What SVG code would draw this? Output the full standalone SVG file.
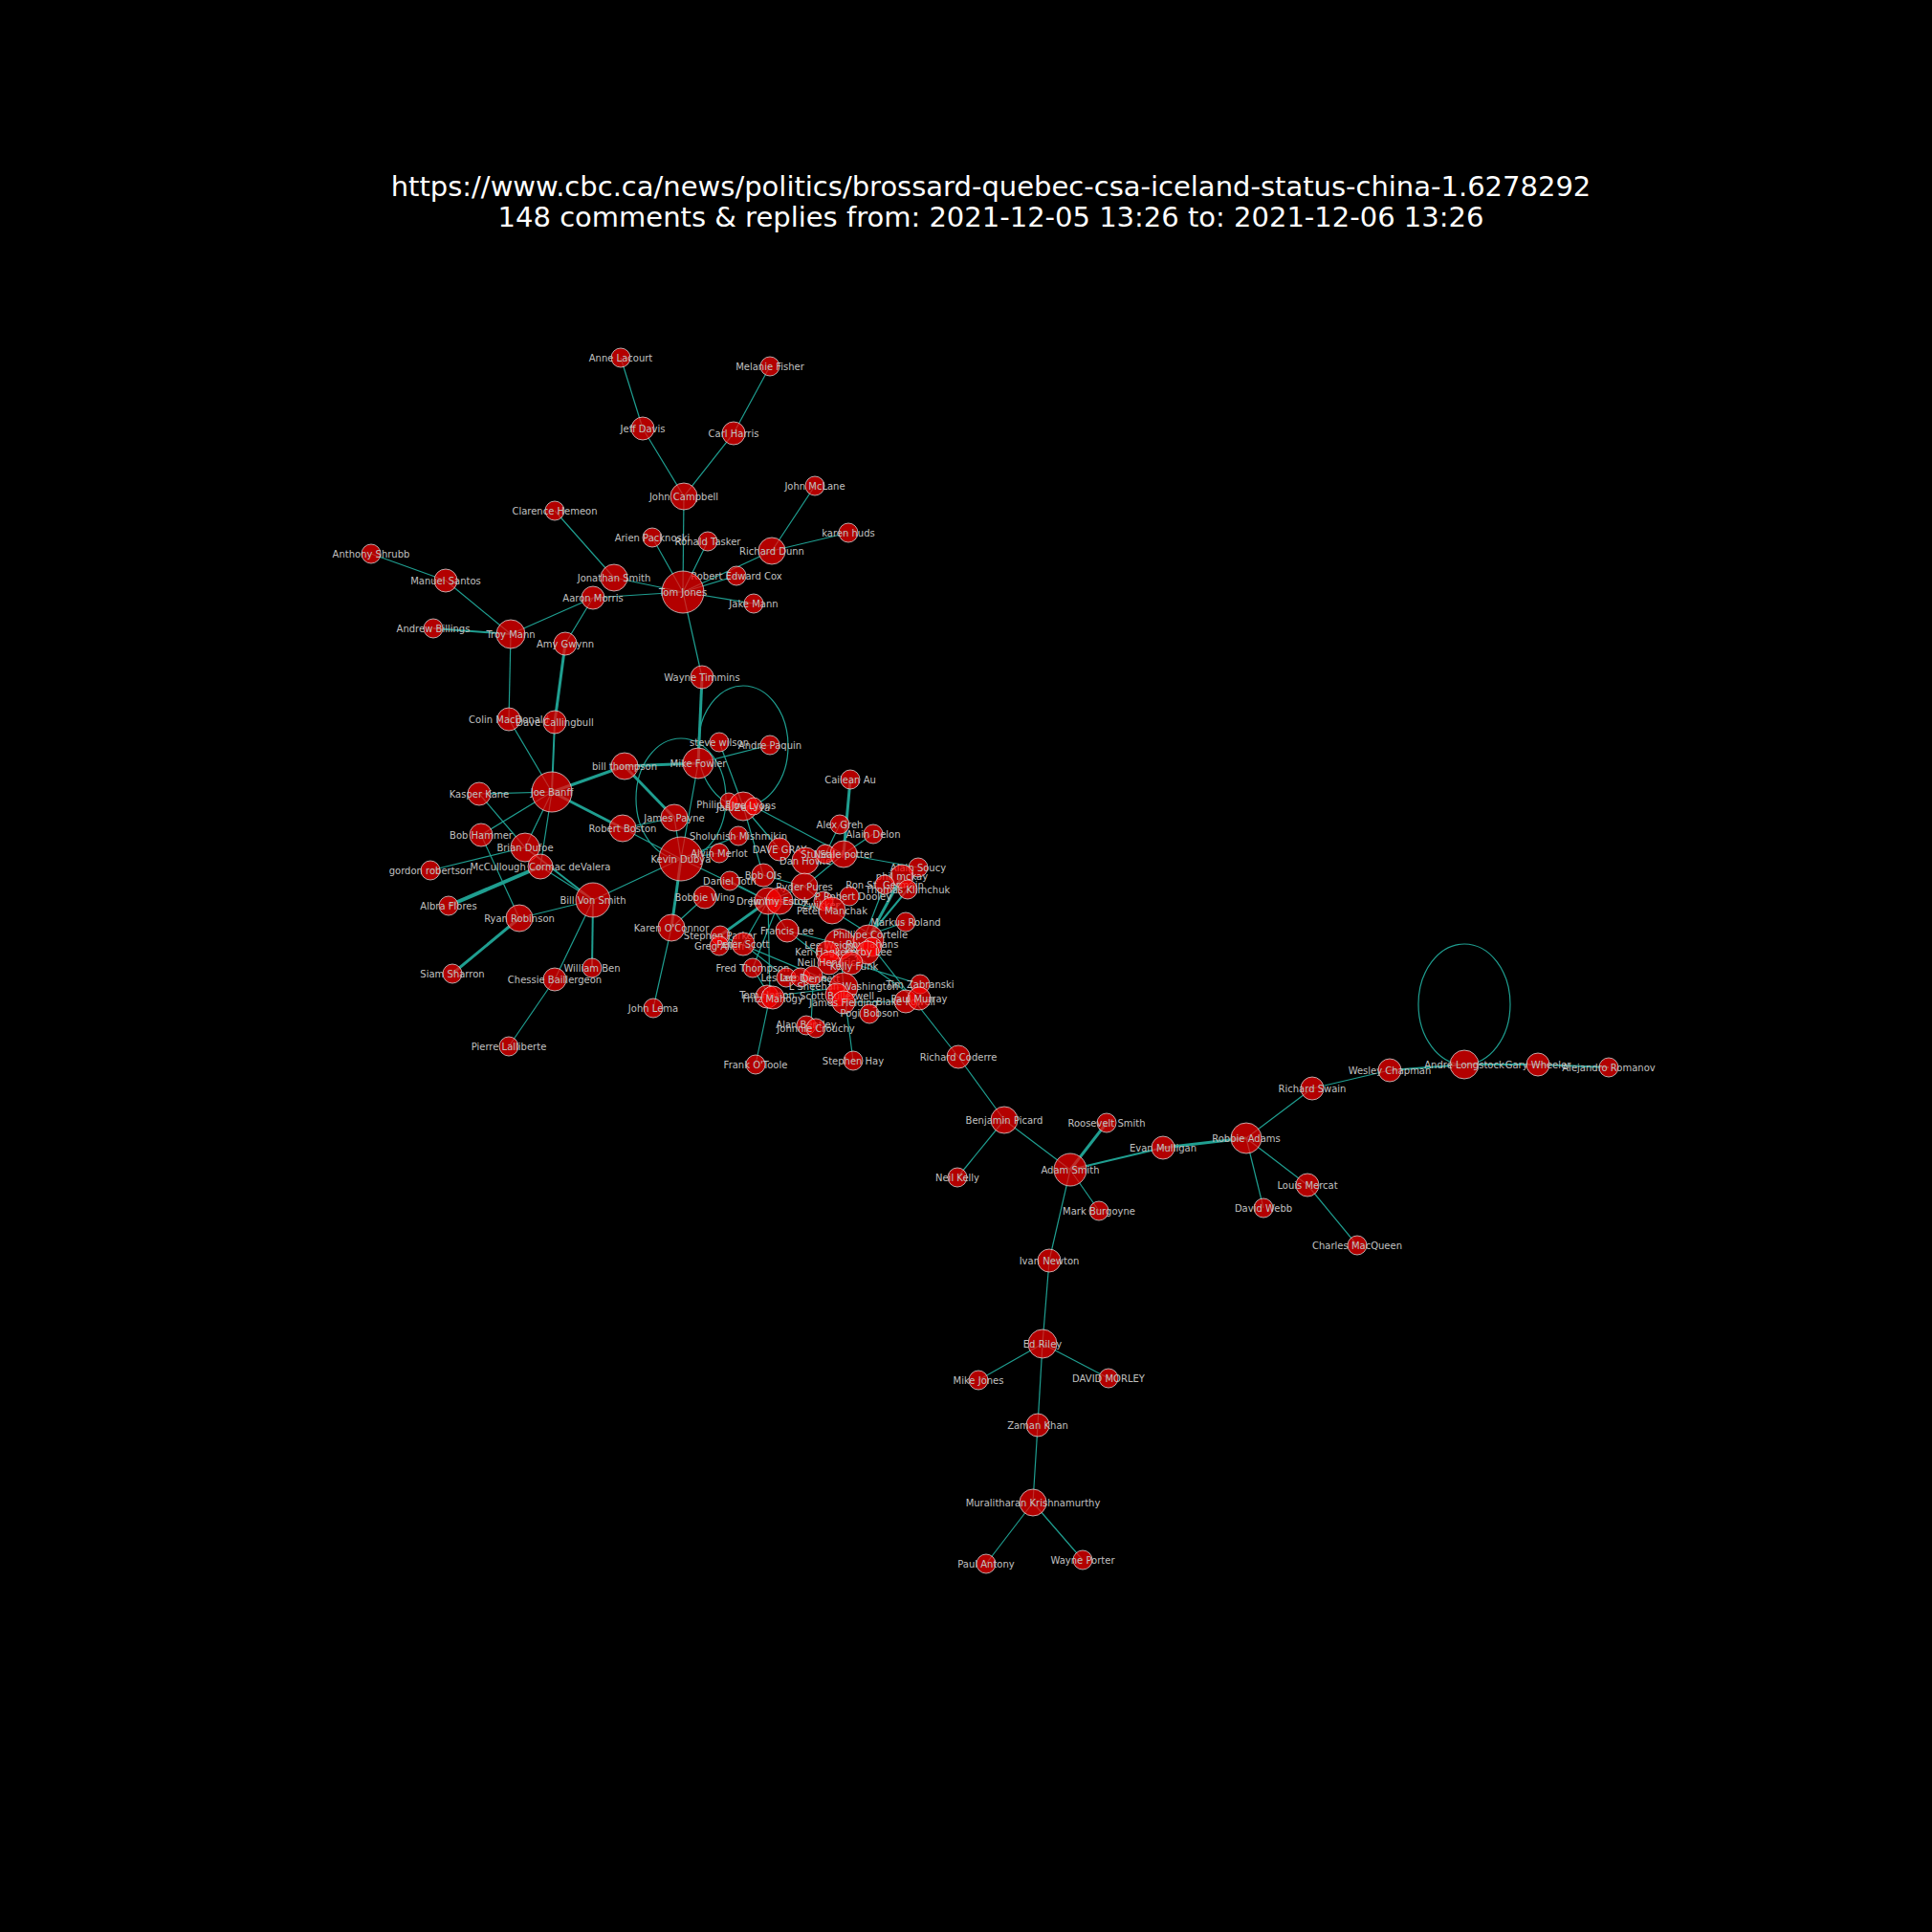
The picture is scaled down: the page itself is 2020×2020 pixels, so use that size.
<svg xmlns="http://www.w3.org/2000/svg" width="2020" height="2020" viewBox="0 0 2020 2020">
<style>
.bg{fill:#000}
.t{font-family:"DejaVu Sans",sans-serif;font-size:29px;fill:#fff;text-anchor:middle}
.n circle{fill:#ff0000;fill-opacity:0.7;stroke:#dddddd;stroke-opacity:0.75;stroke-width:1}
.n text{font-family:"DejaVu Sans",sans-serif;font-size:10px;fill:#c0c0c0;text-anchor:middle;dominant-baseline:central}
#edges line,#edges ellipse{stroke:#1f9e90;stroke-width:1.2;fill:none}
#edges .w2{stroke-width:2}
#edges .w3{stroke-width:3}
#edges .w4{stroke-width:4}
</style>
<rect class="bg" x="0" y="0" width="2020" height="2020"/>
<g id="title">
<text class="t" x="1036" y="205">https://www.cbc.ca/news/politics/brossard-quebec-csa-iceland-status-china-1.6278292</text>
<text class="t" x="1036" y="237">148 comments &amp; replies from: 2021-12-05 13:26 to: 2021-12-06 13:26</text>
</g>
<g id="edges">
<line x1="649" y1="374" x2="672" y2="448"/>
<line x1="672" y1="448" x2="715" y2="519"/>
<line x1="805" y1="383" x2="767" y2="453"/>
<line x1="767" y1="453" x2="715" y2="519"/>
<line x1="715" y1="519" x2="714" y2="619"/>
<line x1="682" y1="562" x2="714" y2="619"/>
<line x1="740" y1="566" x2="714" y2="619"/>
<line x1="852" y1="508" x2="807" y2="576"/>
<line x1="887" y1="557" x2="807" y2="576"/>
<line x1="807" y1="576" x2="714" y2="619"/>
<line x1="770" y1="602" x2="714" y2="619"/>
<line x1="788" y1="631" x2="714" y2="619"/>
<line x1="580" y1="534" x2="642" y2="604"/>
<line x1="642" y1="604" x2="714" y2="619"/>
<line x1="620" y1="625" x2="714" y2="619"/>
<line x1="714" y1="619" x2="734" y2="708"/>
<line x1="388" y1="579" x2="466" y2="607"/>
<line x1="466" y1="607" x2="534" y2="663"/>
<line class="w2" x1="453" y1="657" x2="534" y2="663"/>
<line x1="534" y1="663" x2="620" y2="625"/>
<line x1="620" y1="625" x2="591" y2="673"/>
<line class="w3" x1="591" y1="673" x2="580" y2="755"/>
<line x1="534" y1="663" x2="532" y2="752"/>
<line x1="532" y1="752" x2="577" y2="828"/>
<line class="w2" x1="580" y1="755" x2="577" y2="828"/>
<line class="w3" x1="577" y1="828" x2="653" y2="801"/>
<line class="w3" x1="577" y1="828" x2="651" y2="866"/>
<line x1="577" y1="828" x2="501" y2="830"/>
<line x1="577" y1="828" x2="503" y2="873"/>
<line x1="577" y1="828" x2="549" y2="886"/>
<line x1="577" y1="828" x2="565" y2="906"/>
<line x1="501" y1="830" x2="549" y2="886"/>
<line x1="503" y1="873" x2="543" y2="960"/>
<line x1="450" y1="910" x2="549" y2="886"/>
<line class="w4" x1="565" y1="906" x2="469" y2="947"/>
<line class="w2" x1="549" y1="886" x2="620" y2="941"/>
<line x1="565" y1="906" x2="620" y2="941"/>
<line x1="620" y1="941" x2="543" y2="960"/>
<line class="w3" x1="543" y1="960" x2="473" y2="1018"/>
<line x1="620" y1="941" x2="580" y2="1024"/>
<line class="w2" x1="620" y1="941" x2="619" y2="1012"/>
<line x1="580" y1="1024" x2="532" y2="1094"/>
<line x1="620" y1="941" x2="712" y2="898"/>
<line class="w3" x1="653" y1="801" x2="730" y2="798"/>
<line class="w3" x1="653" y1="801" x2="705" y2="855"/>
<line x1="651" y1="866" x2="705" y2="855"/>
<line x1="651" y1="866" x2="712" y2="898"/>
<line x1="705" y1="855" x2="712" y2="898"/>
<line class="w3" x1="712" y1="898" x2="702" y2="970"/>
<line x1="702" y1="970" x2="683" y2="1054"/>
<line x1="702" y1="970" x2="737" y2="938"/>
<line class="w3" x1="734" y1="708" x2="730" y2="798"/>
<line x1="730" y1="798" x2="805" y2="779"/>
<line x1="730" y1="798" x2="712" y2="898"/>
<line x1="752" y1="776" x2="777" y2="843"/>
<line x1="712" y1="898" x2="772" y2="874"/>
<line x1="712" y1="898" x2="752" y2="892"/>
<line x1="712" y1="898" x2="803" y2="942"/>
<line x1="777" y1="843" x2="815" y2="888"/>
<line x1="777" y1="843" x2="798" y2="915"/>
<line x1="788" y1="843" x2="882" y2="893"/>
<line x1="798" y1="915" x2="841" y2="927"/>
<line x1="763" y1="921" x2="803" y2="942"/>
<line x1="803" y1="942" x2="841" y2="927"/>
<line class="w3" x1="803" y1="942" x2="753" y2="978"/>
<line x1="803" y1="942" x2="823" y2="973"/>
<line x1="815" y1="942" x2="787" y2="1012"/>
<line x1="803" y1="942" x2="777" y2="987"/>
<line x1="815" y1="942" x2="870" y2="952"/>
<line x1="842" y1="900" x2="882" y2="893"/>
<line x1="841" y1="927" x2="882" y2="893"/>
<line x1="878" y1="862" x2="863" y2="893"/>
<line x1="913" y1="872" x2="882" y2="893"/>
<line class="w3" x1="889" y1="815" x2="882" y2="893"/>
<line x1="882" y1="893" x2="960" y2="907"/>
<line x1="841" y1="927" x2="870" y2="952"/>
<line x1="870" y1="952" x2="910" y2="977"/>
<line x1="870" y1="952" x2="888" y2="937"/>
<line class="w3" x1="943" y1="916" x2="910" y2="977"/>
<line class="w2" x1="949" y1="930" x2="910" y2="977"/>
<line x1="925" y1="925" x2="905" y2="977"/>
<line x1="947" y1="964" x2="910" y2="977"/>
<line x1="823" y1="973" x2="878" y2="987"/>
<line x1="823" y1="973" x2="867" y2="1007"/>
<line x1="753" y1="978" x2="882" y2="1032"/>
<line x1="777" y1="987" x2="822" y2="1022"/>
<line x1="787" y1="1012" x2="805" y2="1042"/>
<line x1="805" y1="1042" x2="882" y2="1032"/>
<line x1="805" y1="1042" x2="790" y2="1113"/>
<line x1="805" y1="1042" x2="803" y2="942"/>
<line x1="878" y1="987" x2="882" y2="1032"/>
<line x1="890" y1="1007" x2="962" y2="1029"/>
<line x1="882" y1="1032" x2="892" y2="1109"/>
<line x1="850" y1="1030" x2="848" y2="1072"/>
<line x1="882" y1="1048" x2="947" y2="1047"/>
<line x1="878" y1="987" x2="952" y2="1040"/>
<line x1="908" y1="985" x2="1002" y2="1105"/>
<line x1="1002" y1="1105" x2="1050" y2="1171"/>
<line x1="1050" y1="1171" x2="1001" y2="1231"/>
<line x1="1050" y1="1171" x2="1119" y2="1223"/>
<line class="w3" x1="1119" y1="1223" x2="1157" y2="1174"/>
<line class="w2" x1="1119" y1="1223" x2="1216" y2="1200"/>
<line class="w3" x1="1216" y1="1200" x2="1303" y2="1190"/>
<line x1="1119" y1="1223" x2="1149" y2="1266"/>
<line x1="1119" y1="1223" x2="1097" y2="1318"/>
<line x1="1303" y1="1190" x2="1372" y2="1138"/>
<line x1="1303" y1="1190" x2="1321" y2="1263"/>
<line x1="1303" y1="1190" x2="1367" y2="1239"/>
<line x1="1367" y1="1239" x2="1419" y2="1302"/>
<line x1="1372" y1="1138" x2="1453" y2="1119"/>
<line class="w2" x1="1453" y1="1119" x2="1531" y2="1113"/>
<line class="w2" x1="1531" y1="1113" x2="1608" y2="1113"/>
<line class="w2" x1="1608" y1="1113" x2="1682" y2="1116"/>
<line x1="1097" y1="1318" x2="1090" y2="1405"/>
<line x1="1090" y1="1405" x2="1023" y2="1443"/>
<line x1="1090" y1="1405" x2="1159" y2="1441"/>
<line x1="1090" y1="1405" x2="1085" y2="1490"/>
<line x1="1085" y1="1490" x2="1080" y2="1571"/>
<line x1="1080" y1="1571" x2="1031" y2="1635"/>
<line x1="1080" y1="1571" x2="1132" y2="1631"/>
<ellipse cx="712" cy="835" rx="47" ry="63"/>
<ellipse cx="777" cy="780" rx="47" ry="63"/>
<ellipse cx="1531" cy="1050" rx="48" ry="63"/>
</g>
<g id="nodes">
<g id="n-anne-lacourt" class="n"><circle cx="649" cy="374" r="10"/><text x="649" y="374">Anne Lacourt</text></g>
<g id="n-jeff-davis" class="n"><circle cx="672" cy="448" r="12"/><text x="672" y="448">Jeff Davis</text></g>
<g id="n-melanie-fisher" class="n"><circle cx="805" cy="383" r="10"/><text x="805" y="383">Melanie Fisher</text></g>
<g id="n-carl-harris" class="n"><circle cx="767" cy="453" r="12"/><text x="767" y="453">Carl Harris</text></g>
<g id="n-john-campbell" class="n"><circle cx="715" cy="519" r="14"/><text x="715" y="519">John Campbell</text></g>
<g id="n-john-mclane" class="n"><circle cx="852" cy="508" r="10"/><text x="852" y="508">John McLane</text></g>
<g id="n-clarence-hemeon" class="n"><circle cx="580" cy="534" r="10"/><text x="580" y="534">Clarence Hemeon</text></g>
<g id="n-arien-packnoski" class="n"><circle cx="682" cy="562" r="10"/><text x="682" y="562">Arien Packnoski</text></g>
<g id="n-ronald-tasker" class="n"><circle cx="740" cy="566" r="10"/><text x="740" y="566">Ronald Tasker</text></g>
<g id="n-karen-huds" class="n"><circle cx="887" cy="557" r="10"/><text x="887" y="557">karen huds</text></g>
<g id="n-richard-dunn" class="n"><circle cx="807" cy="576" r="14"/><text x="807" y="576">Richard Dunn</text></g>
<g id="n-jonathan-smith" class="n"><circle cx="642" cy="604" r="14"/><text x="642" y="604">Jonathan Smith</text></g>
<g id="n-robert-edward-cox" class="n"><circle cx="770" cy="602" r="10"/><text x="770" y="602">Robert Edward Cox</text></g>
<g id="n-tom-jones" class="n"><circle cx="714" cy="619" r="22"/><text x="714" y="619">Tom Jones</text></g>
<g id="n-aaron-morris" class="n"><circle cx="620" cy="625" r="12"/><text x="620" y="625">Aaron Morris</text></g>
<g id="n-jake-mann" class="n"><circle cx="788" cy="631" r="10"/><text x="788" y="631">Jake Mann</text></g>
<g id="n-anthony-shrubb" class="n"><circle cx="388" cy="579" r="10"/><text x="388" y="579">Anthony Shrubb</text></g>
<g id="n-manuel-santos" class="n"><circle cx="466" cy="607" r="12"/><text x="466" y="607">Manuel Santos</text></g>
<g id="n-andrew-billings" class="n"><circle cx="453" cy="657" r="10"/><text x="453" y="657">Andrew Billings</text></g>
<g id="n-troy-mann" class="n"><circle cx="534" cy="663" r="15"/><text x="534" y="663">Troy Mann</text></g>
<g id="n-amy-gwynn" class="n"><circle cx="591" cy="673" r="12"/><text x="591" y="673">Amy Gwynn</text></g>
<g id="n-colin-macdonald" class="n"><circle cx="532" cy="752" r="12"/><text x="532" y="752">Colin MacDonald</text></g>
<g id="n-dave-callingbull" class="n"><circle cx="580" cy="755" r="12"/><text x="580" y="755">Dave Callingbull</text></g>
<g id="n-wayne-timmins" class="n"><circle cx="734" cy="708" r="12"/><text x="734" y="708">Wayne Timmins</text></g>
<g id="n-joe-banff" class="n"><circle cx="577" cy="828" r="21"/><text x="577" y="828">Joe Banff</text></g>
<g id="n-bill-thompson" class="n"><circle cx="653" cy="801" r="14"/><text x="653" y="801">bill thompson</text></g>
<g id="n-kasper-kane" class="n"><circle cx="501" cy="830" r="12"/><text x="501" y="830">Kasper Kane</text></g>
<g id="n-james-payne" class="n"><circle cx="705" cy="855" r="14"/><text x="705" y="855">James Payne</text></g>
<g id="n-robert-boston" class="n"><circle cx="651" cy="866" r="14"/><text x="651" y="866">Robert Boston</text></g>
<g id="n-bob-hammer" class="n"><circle cx="503" cy="873" r="12"/><text x="503" y="873">Bob Hammer</text></g>
<g id="n-brian-dufoe" class="n"><circle cx="549" cy="886" r="15"/><text x="549" y="886">Brian Dufoe</text></g>
<g id="n-gordon-robertson" class="n"><circle cx="450" cy="910" r="10"/><text x="450" y="910">gordon robertson</text></g>
<g id="n-mccullough" class="n"><circle cx="565" cy="906" r="13"/><text x="565" y="906">McCullough Cormac deValera</text></g>
<g id="n-bill-von-smith" class="n"><circle cx="620" cy="941" r="18"/><text x="620" y="941">Bill Von Smith</text></g>
<g id="n-albra-flores" class="n"><circle cx="469" cy="947" r="10"/><text x="469" y="947">Albra Flores</text></g>
<g id="n-ryan-robinson" class="n"><circle cx="543" cy="960" r="14"/><text x="543" y="960">Ryan Robinson</text></g>
<g id="n-siam-sharron" class="n"><circle cx="473" cy="1018" r="10"/><text x="473" y="1018">Siam Sharron</text></g>
<g id="n-william-ben" class="n"><circle cx="619" cy="1012" r="10"/><text x="619" y="1012">William Ben</text></g>
<g id="n-chessie-baillergeon" class="n"><circle cx="580" cy="1024" r="12"/><text x="580" y="1024">Chessie Baillergeon</text></g>
<g id="n-pierre-lalliberte" class="n"><circle cx="532" cy="1094" r="10"/><text x="532" y="1094">Pierre Lalliberte</text></g>
<g id="n-steve-wilson" class="n"><circle cx="752" cy="776" r="10"/><text x="752" y="776">steve wilson</text></g>
<g id="n-andre-paquin" class="n"><circle cx="805" cy="779" r="10"/><text x="805" y="779">Andre Paquin</text></g>
<g id="n-mike-fowler" class="n"><circle cx="730" cy="798" r="16"/><text x="730" y="798">Mike Fowler</text></g>
<g id="n-philip-baxter" class="n"><circle cx="762" cy="838" r="9"/><text x="760" y="841">Philip Baxter</text></g>
<g id="n-jan-zenova" class="n"><circle cx="777" cy="843" r="15"/><text x="777" y="844">Jan Zenova</text></g>
<g id="n-joe-lyons" class="n"><circle cx="788" cy="843" r="9"/><text x="788" y="842">Joe Lyons</text></g>
<g id="n-cailean-au" class="n"><circle cx="889" cy="815" r="10"/><text x="889" y="815">Cailean Au</text></g>
<g id="n-alex-greh" class="n"><circle cx="878" cy="862" r="10"/><text x="878" y="862">Alex Greh</text></g>
<g id="n-alain-delon" class="n"><circle cx="913" cy="872" r="10"/><text x="913" y="872">Alain Delon</text></g>
<g id="n-sholunish" class="n"><circle cx="772" cy="874" r="10"/><text x="772" y="874">Sholunish Mishmikin</text></g>
<g id="n-kevin-dubya" class="n"><circle cx="712" cy="898" r="23"/><text x="712" y="898">Kevin Dubya</text></g>
<g id="n-alvin-merlot" class="n"><circle cx="752" cy="892" r="10"/><text x="752" y="892">Alvin Merlot</text></g>
<g id="n-dave-gray" class="n"><circle cx="815" cy="888" r="12"/><text x="815" y="888">DAVE GRAY</text></g>
<g id="n-dan-howie" class="n"><circle cx="842" cy="900" r="14"/><text x="842" y="900">Dan Howie</text></g>
<g id="n-stu" class="n"><circle cx="863" cy="893" r="10"/><text x="863" y="893">Stu Steele</text></g>
<g id="n-neale-potter" class="n"><circle cx="882" cy="893" r="14"/><text x="882" y="893">Neale potter</text></g>
<g id="n-bob-ols" class="n"><circle cx="798" cy="915" r="12"/><text x="798" y="915">Bob Ols</text></g>
<g id="n-daniel-toth" class="n"><circle cx="763" cy="921" r="10"/><text x="763" y="921">Daniel Toth</text></g>
<g id="n-ryder-pures" class="n"><circle cx="841" cy="927" r="14"/><text x="841" y="927">Ryder Pures</text></g>
<g id="n-bobbie-wing" class="n"><circle cx="737" cy="938" r="12"/><text x="737" y="938">Bobbie Wing</text></g>
<g id="n-drew" class="n"><circle cx="803" cy="942" r="14"/><text x="803" y="942">Drew Weston</text></g>
<g id="n-jimmy" class="n"><circle cx="815" cy="942" r="14"/><text x="815" y="942">Jimmy Estok</text></g>
<g id="n-zwikker" class="n"><circle cx="861" cy="942" r="10"/><text x="858" y="946">Zwikker</text></g>
<g id="n-robert-dooley" class="n"><circle cx="888" cy="937" r="10"/><text x="892" y="937">P Robert Dooley</text></g>
<g id="n-peter-manchak" class="n"><circle cx="870" cy="952" r="14"/><text x="870" y="952">Peter Manchak</text></g>
<g id="n-alain-soucy" class="n"><circle cx="960" cy="907" r="10"/><text x="960" y="907">Alain Soucy</text></g>
<g id="n-phil-mckay" class="n"><circle cx="943" cy="916" r="12"/><text x="943" y="916">phil mckay</text></g>
<g id="n-ron-st-germain" class="n"><circle cx="925" cy="925" r="10"/><text x="925" y="925">Ron St. Germain</text></g>
<g id="n-thomas-klimchuk" class="n"><circle cx="949" cy="930" r="10"/><text x="949" y="930">Thomas Klimchuk</text></g>
<g id="n-markus-roland" class="n"><circle cx="947" cy="964" r="10"/><text x="947" y="964">Markus Roland</text></g>
<g id="n-karen-oconnor" class="n"><circle cx="702" cy="970" r="14"/><text x="702" y="970">Karen O'Connor</text></g>
<g id="n-francis-lee" class="n"><circle cx="823" cy="973" r="12"/><text x="823" y="973">Francis Lee</text></g>
<g id="n-stephen-parker" class="n"><circle cx="753" cy="978" r="10"/><text x="753" y="978">Stephen Parker</text></g>
<g id="n-greg" class="n"><circle cx="752" cy="989" r="10"/><text x="752" y="989">Greg Allen</text></g>
<g id="n-peter-scott" class="n"><circle cx="777" cy="987" r="12"/><text x="777" y="987">Peter Scott</text></g>
<g id="n-lee-weidman" class="n"><circle cx="878" cy="987" r="16"/><text x="875" y="988">Lee Weidman</text></g>
<g id="n-phillipe-cortelle" class="n"><circle cx="908" cy="983" r="16"/><text x="910" y="977">Phillipe Cortelle</text></g>
<g id="n-jahans" class="n"><circle cx="912" cy="990" r="10"/><text x="912" y="987">Roy Jahans</text></g>
<g id="n-ken-hagkerty" class="n"><circle cx="865" cy="996" r="12"/><text x="865" y="995">Ken Hagkerty</text></g>
<g id="n-kerby-lee" class="n"><circle cx="907" cy="996" r="12"/><text x="908" y="995">Kerby Lee</text></g>
<g id="n-neil-hendrick" class="n"><circle cx="867" cy="1007" r="12"/><text x="867" y="1006">Neil Hendrick</text></g>
<g id="n-kelly-funk" class="n"><circle cx="890" cy="1007" r="12"/><text x="893" y="1010">Kelly Funk</text></g>
<g id="n-fred-thompson" class="n"><circle cx="787" cy="1012" r="10"/><text x="787" y="1012">Fred Thompson</text></g>
<g id="n-les" class="n"><circle cx="822" cy="1022" r="10"/><text x="822" y="1022">Les Iacono</text></g>
<g id="n-le1" class="n"><circle cx="837" cy="1022" r="10"/><text x="840" y="1022">Lee Doyle</text></g>
<g id="n-le2" class="n"><circle cx="850" cy="1020" r="10"/><text x="858" y="1023">Dennett</text></g>
<g id="n-washington" class="n"><circle cx="882" cy="1032" r="15"/><text x="882" y="1031">L Sheehan Washington</text></g>
<g id="n-scott-bullerwell" class="n"><circle cx="875" cy="1040" r="12"/><text x="875" y="1041">Scott Bullerwell</text></g>
<g id="n-james-fielding" class="n"><circle cx="882" cy="1048" r="12"/><text x="882" y="1048">James Fielding</text></g>
<g id="n-tom-horton" class="n"><circle cx="802" cy="1042" r="12"/><text x="802" y="1040">Tom Horton</text></g>
<g id="n-fritz-mahogy" class="n"><circle cx="808" cy="1043" r="12"/><text x="808" y="1044">Fritz Mahogy</text></g>
<g id="n-pogi-bobson" class="n"><circle cx="909" cy="1060" r="10"/><text x="909" y="1059">Pogi Bobson</text></g>
<g id="n-alan-bentley" class="n"><circle cx="843" cy="1072" r="10"/><text x="843" y="1071">Alan Bentley</text></g>
<g id="n-johnnie-crouchy" class="n"><circle cx="853" cy="1075" r="10"/><text x="853" y="1075">Johnnie Crouchy</text></g>
<g id="n-frank-otoole" class="n"><circle cx="790" cy="1113" r="10"/><text x="790" y="1113">Frank O'Toole</text></g>
<g id="n-stephen-hay" class="n"><circle cx="892" cy="1109" r="10"/><text x="892" y="1109">Stephen Hay</text></g>
<g id="n-tim-branski" class="n"><circle cx="962" cy="1029" r="10"/><text x="962" y="1029">Tim Zabranski</text></g>
<g id="n-blake-powell" class="n"><circle cx="947" cy="1047" r="12"/><text x="947" y="1047">Blake Powell</text></g>
<g id="n-paul-murray" class="n"><circle cx="961" cy="1044" r="12"/><text x="961" y="1044">Paul Murray</text></g>
<g id="n-john-lema" class="n"><circle cx="683" cy="1054" r="10"/><text x="683" y="1054">John Lema</text></g>
<g id="n-richard-coderre" class="n"><circle cx="1002" cy="1105" r="12"/><text x="1002" y="1105">Richard Coderre</text></g>
<g id="n-benjamin-picard" class="n"><circle cx="1050" cy="1171" r="14"/><text x="1050" y="1171">Benjamin Picard</text></g>
<g id="n-roosevelt-smith" class="n"><circle cx="1157" cy="1174" r="10"/><text x="1157" y="1174">Roosevelt Smith</text></g>
<g id="n-neil-kelly" class="n"><circle cx="1001" cy="1231" r="10"/><text x="1001" y="1231">Neil Kelly</text></g>
<g id="n-adam-smith" class="n"><circle cx="1119" cy="1223" r="17"/><text x="1119" y="1223">Adam Smith</text></g>
<g id="n-evan-mulligan" class="n"><circle cx="1216" cy="1200" r="12"/><text x="1216" y="1200">Evan Mulligan</text></g>
<g id="n-robbie-adams" class="n"><circle cx="1303" cy="1190" r="16"/><text x="1303" y="1190">Robbie Adams</text></g>
<g id="n-richard-swain" class="n"><circle cx="1372" cy="1138" r="12"/><text x="1372" y="1138">Richard Swain</text></g>
<g id="n-wesley-chapman" class="n"><circle cx="1453" cy="1119" r="12"/><text x="1453" y="1119">Wesley Chapman</text></g>
<g id="n-andre-longstock" class="n"><circle cx="1531" cy="1113" r="15"/><text x="1531" y="1113">Andre Longstock</text></g>
<g id="n-gary-wheeler" class="n"><circle cx="1608" cy="1113" r="12"/><text x="1608" y="1113">Gary Wheeler</text></g>
<g id="n-alejandro-romanov" class="n"><circle cx="1682" cy="1116" r="10"/><text x="1682" y="1116">Alejandro Romanov</text></g>
<g id="n-mark-burgoyne" class="n"><circle cx="1149" cy="1266" r="10"/><text x="1149" y="1266">Mark Burgoyne</text></g>
<g id="n-david-webb" class="n"><circle cx="1321" cy="1263" r="10"/><text x="1321" y="1263">David Webb</text></g>
<g id="n-louis-mercat" class="n"><circle cx="1367" cy="1239" r="12"/><text x="1367" y="1239">Louis Mercat</text></g>
<g id="n-charles-macqueen" class="n"><circle cx="1419" cy="1302" r="10"/><text x="1419" y="1302">Charles MacQueen</text></g>
<g id="n-ivan-newton" class="n"><circle cx="1097" cy="1318" r="12"/><text x="1097" y="1318">Ivan Newton</text></g>
<g id="n-ed-riley" class="n"><circle cx="1090" cy="1405" r="15"/><text x="1090" y="1405">Ed Riley</text></g>
<g id="n-mike-jones" class="n"><circle cx="1023" cy="1443" r="10"/><text x="1023" y="1443">Mike Jones</text></g>
<g id="n-david-morley" class="n"><circle cx="1159" cy="1441" r="10"/><text x="1159" y="1441">DAVID MORLEY</text></g>
<g id="n-zaman-khan" class="n"><circle cx="1085" cy="1490" r="12"/><text x="1085" y="1490">Zaman Khan</text></g>
<g id="n-muralitharan" class="n"><circle cx="1080" cy="1571" r="14"/><text x="1080" y="1571">Muralitharan Krishnamurthy</text></g>
<g id="n-paul-antony" class="n"><circle cx="1031" cy="1635" r="10"/><text x="1031" y="1635">Paul Antony</text></g>
<g id="n-wayne-porter" class="n"><circle cx="1132" cy="1631" r="10"/><text x="1132" y="1631">Wayne Porter</text></g>
</g>
</svg>
